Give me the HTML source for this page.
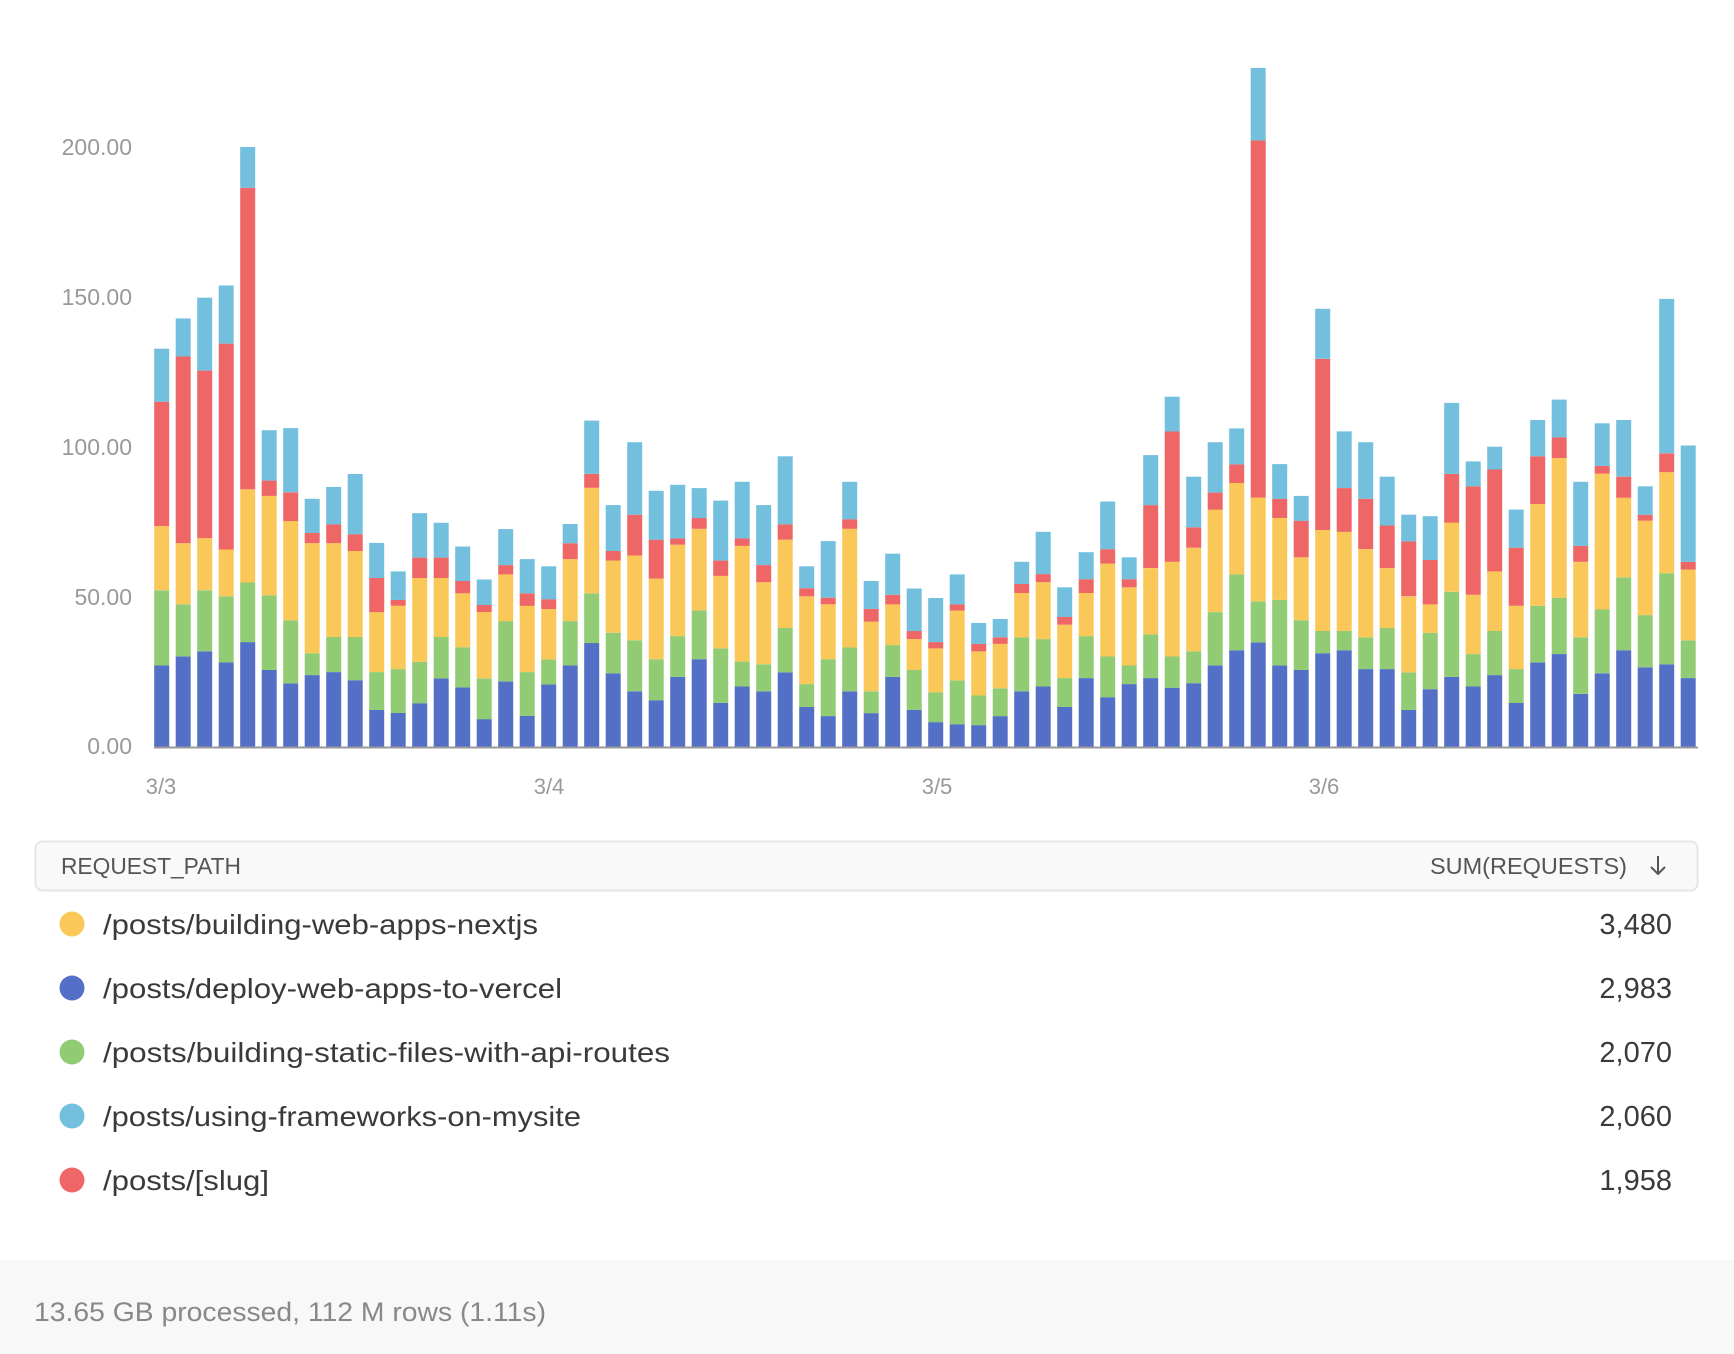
<!DOCTYPE html>
<html><head><meta charset="utf-8">
<style>
html,body{margin:0;padding:0;background:#fff;}
svg{display:block;font-family:"Liberation Sans",sans-serif;}
</style></head>
<body>
<svg id="c" width="1734" height="1354" viewBox="0 0 1734 1354" xmlns="http://www.w3.org/2000/svg">
<rect x="0" y="0" width="1734" height="1354" fill="#fff"/>
<g fill="#999" font-size="23" text-anchor="end">
<text x="132" y="155">200.00</text>
<text x="132" y="305">150.00</text>
<text x="132" y="455">100.00</text>
<text x="132" y="605">50.00</text>
<text x="132" y="754">0.00</text>
</g>
<g fill="#999" font-size="22" text-anchor="middle">
<text x="161" y="794">3/3</text>
<text x="549" y="794">3/4</text>
<text x="937" y="794">3/5</text>
<text x="1324" y="794">3/6</text>
</g>
<g id="bars"></g>
<line x1="154" y1="747.5" x2="1698" y2="747.5" stroke="#999" stroke-width="2"/>
<rect x="35.5" y="841.5" width="1662" height="49" rx="7" fill="#f9f9f9" stroke="#e6e6e6" stroke-width="2"/>
<g fill="#555" font-size="23">
<text x="61" y="874" textLength="180" lengthAdjust="spacingAndGlyphs">REQUEST_PATH</text>
<text x="1430" y="874" textLength="197" lengthAdjust="spacingAndGlyphs">SUM(REQUESTS)</text>
</g>
<path d="M1658 856 V874 M1651 867 L1658 874 L1665 867" stroke="#555" stroke-width="2" fill="none"/>
<g font-size="28" fill="#3a3a3a">
<circle cx="72" cy="924" r="12.5" fill="#fac858"/>
<text x="103" y="934" textLength="435" lengthAdjust="spacingAndGlyphs">/posts/building-web-apps-nextjs</text>
<circle cx="72" cy="988" r="12.5" fill="#5470c6"/>
<text x="103" y="998" textLength="459" lengthAdjust="spacingAndGlyphs">/posts/deploy-web-apps-to-vercel</text>
<circle cx="72" cy="1052" r="12.5" fill="#91cc75"/>
<text x="103" y="1062" textLength="567" lengthAdjust="spacingAndGlyphs">/posts/building-static-files-with-api-routes</text>
<circle cx="72" cy="1116" r="12.5" fill="#73c0de"/>
<text x="103" y="1126" textLength="478" lengthAdjust="spacingAndGlyphs">/posts/using-frameworks-on-mysite</text>
<circle cx="72" cy="1180" r="12.5" fill="#ee6666"/>
<text x="103" y="1190" textLength="166" lengthAdjust="spacingAndGlyphs">/posts/[slug]</text>
<g text-anchor="end" font-size="29">
<text x="1672" y="934">3,480</text>
<text x="1672" y="998">2,983</text>
<text x="1672" y="1062">2,070</text>
<text x="1672" y="1126">2,060</text>
<text x="1672" y="1190">1,958</text>
</g>
</g>
<rect x="0" y="1260" width="1734" height="94" fill="#f8f8f8"/>
<text x="34" y="1321" font-size="27" fill="#888" textLength="512" lengthAdjust="spacingAndGlyphs">13.65 GB processed, 112 M rows (1.11s)</text>
</svg>
<script>
var d=[
[27.2,52.3,73.7,115.2,132.9],[30.2,47.6,68,130.3,143],[31.9,52.3,69.7,125.6,149.9],[28.2,50.3,65.9,134.6,154],
[35,54.9,86,186.6,200.2],[25.7,50.6,83.8,88.9,105.7],[21.2,42.3,75.4,85,106.4],[24,31.3,68,71.4,82.8],
[25,36.7,68,74.3,86.8],[22.3,36.7,65.4,71,91.1],[12.4,25,45,56.4,68.1],[11.4,26,47.1,49.1,58.6],
[14.6,28.4,56.4,63.2,78],[22.9,36.7,56.4,63.2,74.8],[19.9,33.3,51.3,55.4,66.9],[9.3,22.9,45,47.4,55.9],
[21.9,42,57.6,60.7,72.7],[10.4,25,47.1,51.3,62.7],[20.9,29.2,46,49.3,60.3],[27.2,42,62.7,68,74.4],
[34.7,51.3,86.5,91.1,108.9],[24.6,38.1,62.2,65.4,80.7],[18.6,35.6,63.9,77.5,101.7],[15.6,29.3,56.2,69.2,85.5],
[23.4,37,67.5,69.6,87.5],[29.3,45.6,72.8,76.4,86.4],[14.7,32.9,57.1,62.2,82.2],[20.2,28.5,67.1,69.6,88.5],
[18.6,27.6,55,60.7,80.7],[24.9,39.7,69.2,74.3,97],[13.4,21,50.3,53,60.3],[10.3,29.3,47.6,49.8,68.7],
[18.6,33.2,72.8,76,88.5],[11.3,18.6,41.8,46.1,55.4],[23.4,34,47.6,50.8,64.5],[12.4,25.7,36,38.7,52.9],
[8.3,18.3,32.9,35,49.7],[7.6,22.2,45.5,47.6,57.6],[7.3,17.2,31.9,34.4,41.4],[10.3,19.6,34.4,36.6,42.7],
[18.6,36.6,51.4,54.4,61.8],[20.2,36,55,57.7,71.8],[13.4,23,40.8,43.4,53.3],[23,37,51.4,56,65],
[16.6,30.2,61.2,66,81.9],[21,27.2,53.3,56,63.3],[23,37.6,59.7,80.7,97.4],[19.8,30.2,61.8,105.3,116.9],
[21.3,31.9,66.5,73.3,90.2],[27.2,45,79.2,84.9,101.7],[32.3,57.6,88.1,94.3,106.3],[34.9,48.6,83.2,202.4,226.6],
[27.2,49.1,76.4,82.8,94.4],[25.7,42.3,63.3,75.5,83.8],[31.3,38.7,72.4,129.5,146.2],[32.3,38.7,71.8,86.4,105.3],
[26,36.6,66,82.8,101.7],[26,39.7,59.7,73.9,90.2],[12.4,24.9,50.3,68.6,77.5],[19.3,38.1,47.6,62.4,77],
[23.4,51.8,74.9,91.1,114.8],[20.2,31,50.8,87,95.3],[24,38.7,58.6,92.6,100.2],[14.7,26,47.1,66.5,79.2],
[28.2,47.1,81.1,97,109.1],[31,49.8,96.4,103.3,115.9],[17.7,36.6,61.8,67.1,88.5],[24.6,45.9,91.2,93.8,108],
[32.3,56.6,83.2,90.2,109.1],[26.6,44,75.5,77.5,87],[27.6,58,91.7,98,149.5],[23,35.6,59.2,61.8,100.6]];
var cols=["#5470c6","#91cc75","#fac858","#ee6666","#73c0de"];
var g=document.getElementById("bars"),ns="http://www.w3.org/2000/svg";
function Y(v){return 747-v*2.997;}
d.forEach(function(b,i){
  var x=154.2+i*21.5,prev=0;
  for(var k=0;k<5;k++){
    var r=document.createElementNS(ns,"rect");
    var y1=Y(b[k]),y0=Y(prev);
    r.setAttribute("x",x.toFixed(1));r.setAttribute("width","15");
    r.setAttribute("y",y1.toFixed(1));r.setAttribute("height",Math.max(0,y0-y1).toFixed(1));
    r.setAttribute("fill",cols[k]);
    g.appendChild(r);prev=b[k];
  }
});
</script>
</body></html>
